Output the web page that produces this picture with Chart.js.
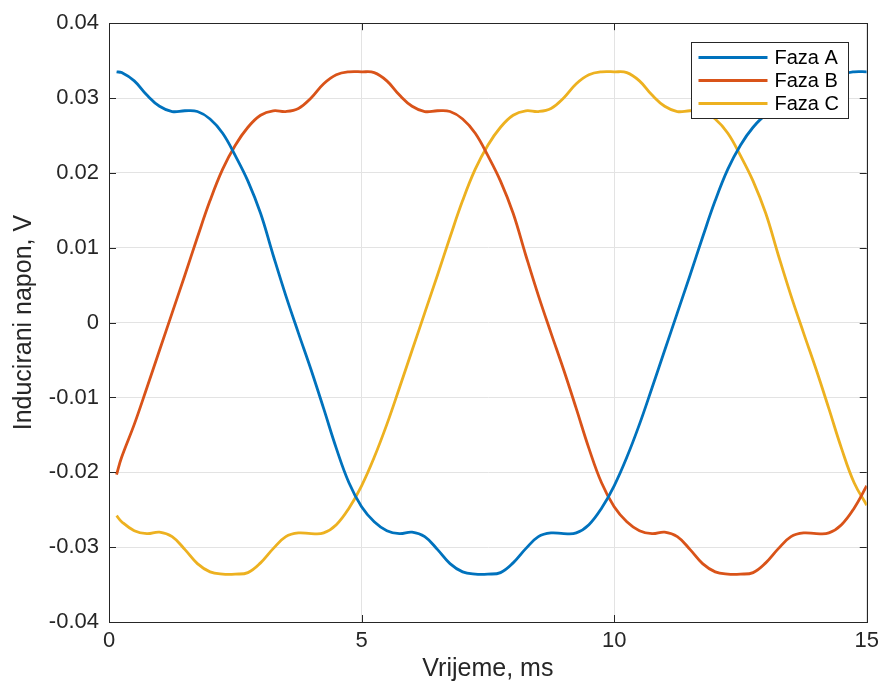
<!DOCTYPE html>
<html>
<head>
<meta charset="utf-8">
<script src="https://cdn.jsdelivr.net/npm/chart.js@4.4.1/dist/chart.umd.min.js"></script>
<style>
  html, body { margin: 0; padding: 0; background: #fff; }
  #wrap { width: 885px; height: 688px; }
</style>
</head>
<body>
<div id="wrap"><canvas id="c" width="885" height="688"></canvas></div>
<script>
// ── data ──────────────────────────────────────────────────────
const timeMs = [0.15, 0.25, 0.5, 0.75, 1, 1.25, 1.5, 1.75, 2, 2.25, 2.5, 2.75, 3, 3.25, 3.5, 3.75,
  4, 4.25, 4.5, 4.75, 5, 5.25, 5.5, 5.75, 6, 6.25, 6.5, 6.75, 7, 7.25, 7.5, 7.75,
  8, 8.25, 8.5, 8.75, 9, 9.25, 9.5, 9.75, 10, 10.25, 10.5, 10.75, 11, 11.25, 11.5, 11.75,
  12, 12.25, 12.5, 12.75, 13, 13.25, 13.5, 13.75, 14, 14.25, 14.5, 14.75, 15];

const fazaA = [0.0335, 0.0334, 0.0323, 0.0304, 0.0289, 0.0282, 0.0283, 0.0282, 0.0272, 0.0253, 0.0223, 0.0189, 0.0146, 0.0090, 0.0036, -0.0014,
  -0.0063, -0.0115, -0.0168, -0.0214, -0.0246, -0.0266, -0.0278, -0.0282, -0.0280, -0.0286, -0.0303, -0.0322, -0.0333, -0.0336, -0.0336, -0.0334,
  -0.0321, -0.0302, -0.0286, -0.0281, -0.0282, -0.0281, -0.0270, -0.0248, -0.0218, -0.0180, -0.0136, -0.0087, -0.0037, 0.0013, 0.0063, 0.0114,
  0.0163, 0.0205, 0.0237, 0.0261, 0.0277, 0.0283, 0.0282, 0.0286, 0.0300, 0.0319, 0.0331, 0.0335, 0.0335];

const fazaB = [-0.0203, -0.0180, -0.0136, -0.0087, -0.0037, 0.0013, 0.0063, 0.0114, 0.0163, 0.0205, 0.0237, 0.0261, 0.0277, 0.0283, 0.0282, 0.0286,
  0.0300, 0.0319, 0.0331, 0.0335, 0.0335, 0.0334, 0.0323, 0.0304, 0.0289, 0.0282, 0.0283, 0.0282, 0.0272, 0.0253, 0.0223, 0.0189,
  0.0146, 0.0090, 0.0036, -0.0014, -0.0063, -0.0115, -0.0168, -0.0214, -0.0246, -0.0266, -0.0278, -0.0282, -0.0280, -0.0286, -0.0303, -0.0322,
  -0.0333, -0.0336, -0.0336, -0.0334, -0.0321, -0.0302, -0.0286, -0.0281, -0.0282, -0.0281, -0.0270, -0.0248, -0.0218];

const fazaC = [-0.0258, -0.0266, -0.0278, -0.0282, -0.0280, -0.0286, -0.0303, -0.0322, -0.0333, -0.0336, -0.0336, -0.0334, -0.0321, -0.0302, -0.0286, -0.0281,
  -0.0282, -0.0281, -0.0270, -0.0248, -0.0218, -0.0180, -0.0136, -0.0087, -0.0037, 0.0013, 0.0063, 0.0114, 0.0163, 0.0205, 0.0237, 0.0261,
  0.0277, 0.0283, 0.0282, 0.0286, 0.0300, 0.0319, 0.0331, 0.0335, 0.0335, 0.0334, 0.0323, 0.0304, 0.0289, 0.0282, 0.0283, 0.0282,
  0.0272, 0.0253, 0.0223, 0.0189, 0.0146, 0.0090, 0.0036, -0.0014, -0.0063, -0.0115, -0.0168, -0.0214, -0.0244];

const seriesNames  = ['Faza A', 'Faza B', 'Faza C'];
const seriesColors = ['#0072BD', '#D95319', '#EDB120'];
const xTicks = [0, 5, 10, 15];
const yTicks = [-0.04, -0.03, -0.02, -0.01, 0, 0.01, 0.02, 0.03, 0.04];

const FONT = "'Liberation Sans', Arial, Helvetica, sans-serif";
const pts = vals => timeMs.map((t, i) => ({ x: t, y: vals[i] }));

// ── box, inward ticks, legend (MATLAB look) ───────────────────
const matlabAxes = {
  id: 'matlabAxes',
  afterDatasetsDraw(chart) {
    const { ctx, chartArea: a, scales: { x, y } } = chart;
    const tl = 7;
    ctx.save();
    ctx.strokeStyle = '#262626';
    ctx.lineWidth = 1;
    ctx.beginPath();
    xTicks.forEach(v => {
      const px = Math.round(x.getPixelForValue(v)) + 0.5;
      ctx.moveTo(px, a.bottom); ctx.lineTo(px, a.bottom - tl);
      ctx.moveTo(px, a.top);    ctx.lineTo(px, a.top + tl);
    });
    yTicks.forEach(v => {
      const py = Math.round(y.getPixelForValue(v)) + 0.5;
      ctx.moveTo(a.left, py);  ctx.lineTo(a.left + tl, py);
      ctx.moveTo(a.right, py); ctx.lineTo(a.right - tl, py);
    });
    ctx.stroke();
    ctx.strokeRect(Math.round(a.left) + 0.5, Math.round(a.top) + 0.5,
                   Math.round(a.right - a.left), Math.round(a.bottom - a.top));

    // legend
    const bw = 157, bh = 76;
    const bx = Math.round(a.right - 19 - bw) + 0.5, by = Math.round(a.top + 19) + 0.5;
    ctx.fillStyle = '#fff';
    ctx.fillRect(bx, by, bw, bh);
    ctx.strokeStyle = '#262626';
    ctx.strokeRect(bx, by, bw, bh);
    ctx.font = '20px ' + FONT;
    ctx.textBaseline = 'middle';
    chart.data.datasets.forEach((ds, i) => {
      const ry = by + 15 + i * 23;
      ctx.strokeStyle = ds.borderColor;
      ctx.lineWidth = 2.8;
      ctx.beginPath(); ctx.moveTo(bx + 7, ry); ctx.lineTo(bx + 76, ry); ctx.stroke();
      ctx.fillStyle = '#000';
      ctx.fillText(ds.label, bx + 83, ry + 1);
    });
    ctx.restore();
  }
};

new Chart(document.getElementById('c'), {
  type: 'line',
  data: {
    datasets: [fazaA, fazaB, fazaC].map((vals, i) => ({
      label: seriesNames[i],
      data: pts(vals),
      borderColor: seriesColors[i],
      backgroundColor: seriesColors[i],
      borderWidth: 2.8,
      pointRadius: 0,
      tension: 0.4,
      fill: false,
    }))
  },
  options: {
    responsive: false,
    animation: false,
    devicePixelRatio: 1,
    layout: { padding: { top: 22, right: 16, left: 0, bottom: 0 } },
    plugins: { legend: { display: false }, tooltip: { enabled: false } },
    scales: {
      x: {
        type: 'linear', min: 0, max: 15,
        afterBuildTicks: s => { s.ticks = xTicks.map(v => ({ value: v })); },
        afterFit: s => { s.height = 66; },
        grid: { color: '#e3e3e3', drawTicks: false },
        border: { display: true, color: '#262626' },
        ticks: { color: '#262626', font: { family: FONT, size: 22 }, padding: 6, maxRotation: 0 },
        title: { display: true, text: 'Vrijeme, ms', color: '#262626',
                 font: { family: FONT, size: 25 }, padding: { top: 0, bottom: 4 } },
      },
      y: {
        type: 'linear', min: -0.04, max: 0.04,
        afterBuildTicks: s => { s.ticks = yTicks.map(v => ({ value: v })); },
        afterFit: s => { s.width = 109; },
        grid: { color: '#e3e3e3', drawTicks: false },
        border: { display: true, color: '#262626' },
        ticks: { color: '#262626', font: { family: FONT, size: 22 }, padding: 10,
                 callback: v => Math.abs(v) < 1e-9 ? '0' : v.toFixed(2) },
        title: { display: true, text: 'Inducirani napon, V', color: '#262626',
                 font: { family: FONT, size: 25 }, padding: { top: 9, bottom: 0 } },
      },
    },
  },
  plugins: [matlabAxes],
});
</script>
</body>
</html>
